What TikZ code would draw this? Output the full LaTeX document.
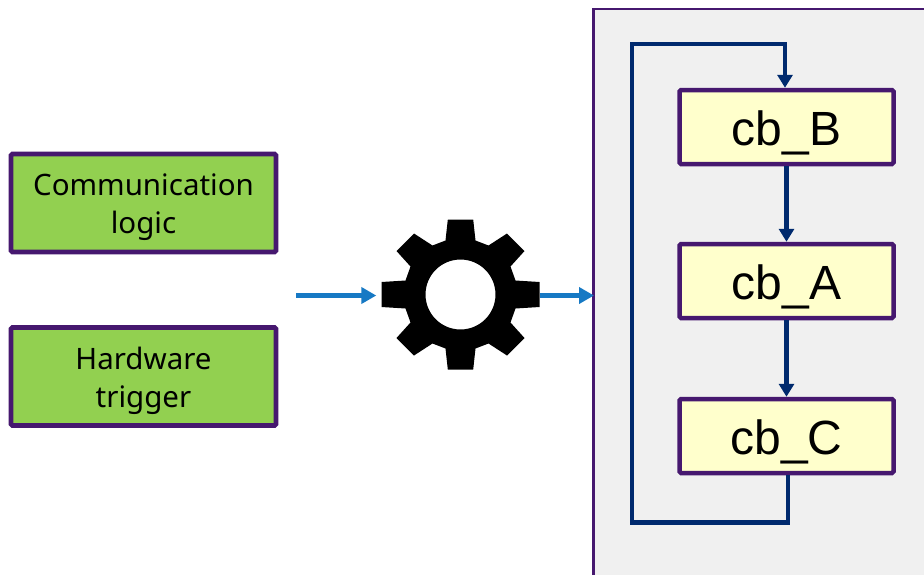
\documentclass[tikz,border=0pt]{standalone}
\usepackage{fontspec}
\setmainfont{Liberation Sans}
\newfontfamily\labelfont{Noto Sans}
\usetikzlibrary{arrows.meta}
\definecolor{frame}{HTML}{46186F}
\definecolor{navy}{HTML}{002A6E}
\definecolor{flow}{HTML}{1679C4}
\definecolor{leaf}{HTML}{92D050}
\definecolor{cream}{HTML}{FFFFCC}
\definecolor{panelgray}{HTML}{F0F0F0}
\newcommand{\lowered}[2]{\raisebox{-#1}[\height][\depth]{#2}}
\newcommand{\twolines}[2]{\lowered{4pt}{\begin{tabular}{@{}c@{}}#1\\#2\end{tabular}}}
\tikzset{
  sourcebox/.style={draw=frame,line width=4.8pt,fill=leaf,rounded corners=1.5pt,minimum width=265pt,minimum height=98pt,inner sep=0pt,font=\labelfont\fontsize{29.5}{38}\selectfont,text=black},
  cbbox/.style={draw=frame,line width=4.5pt,fill=cream,rounded corners=1.5pt,minimum width=214pt,minimum height=74pt,inner sep=0pt,font=\fontsize{48}{50}\selectfont},
  cbflow/.style={draw=navy,line width=4.5pt,-{Triangle[length=13pt,width=15pt]}},
  cbloop/.style={draw=navy,line width=4.5pt,miter limit=10},
  inflow/.style={draw=flow,line width=4.5pt,-{Triangle[length=15pt,width=16pt]}},
  paneledge/.style={draw=frame,line width=2.5pt,fill=panelgray}
}
\begin{document}
\begin{tikzpicture}[x=1pt,y=-1pt]
\clip (0,0) rectangle (924,574);
\fill[white] (0,0) rectangle (924,574);
\node[paneledge,minimum width=500pt,minimum height=700pt,inner sep=0pt,anchor=north west] (panel) at (592,7.5) {};
\node[sourcebox] (comm) at (143.5,203) {\twolines{Communication}{logic}};
\node[sourcebox] (hw) at (143.5,376.5) {\twolines{Hardware}{trigger}};
\node[cbbox] (cbB) at (786.5,127) {\lowered{6pt}{cb\_B}};
\node[cbbox] (cbA) at (786.5,281) {\lowered{6pt}{cb\_A}};
\node[cbbox] (cbC) at (786.5,436) {\lowered{6pt}{cb\_C}};
\draw[cbflow] (cbB.south) -- (cbA.north);
\draw[cbflow] (cbA.south) -- (cbC.north);
\coordinate (loopLL) at (632,522.5);
\coordinate (loopUL) at (632,44);
\draw[cbloop] ([xshift=1.5pt]cbC.south) |- (loopLL) -- (loopUL) -| ([xshift=-1.5pt,yshift=12pt]cbB.north);
\draw[cbflow] ([xshift=-1.5pt,yshift=14pt]cbB.north) -- ([xshift=-1.5pt]cbB.north);
% gear
\node[circle,minimum size=158pt,inner sep=0pt] (gear) at (460.5,294.5) {};
\fill[black,even odd rule,shift={(gear.center)}]
 (-15,-54) -- (-12.7,-75) -- (12.7,-75) -- (15,-54) -- (28,-49) -- (46.5,-61) -- (64,-43.5) -- (50,-28)
 -- (55,-14) -- (79,-12.5) -- (79,12.5) -- (55,14) -- (50,28) -- (64,43.5) -- (46.5,61) -- (28,49)
 -- (15,54) -- (12.7,75) -- (-12.7,75) -- (-15,54) -- (-28,49) -- (-46.5,61) -- (-64,43.5) -- (-50,28)
 -- (-55,14) -- (-79,12.5) -- (-79,-12.5) -- (-55,-14) -- (-50,-28) -- (-64,-43.5) -- (-46.5,-61) -- (-28,-49) -- cycle
 (0,0) circle[radius=35];
\coordinate (feed) at (296,295.5);
\coordinate (panelin) at (594,295.5);
\draw[inflow] (feed) -- ([xshift=-5pt]gear.west |- feed);
\draw[inflow] (gear.east |- panelin) -- (panelin);
\end{tikzpicture}
\end{document}
